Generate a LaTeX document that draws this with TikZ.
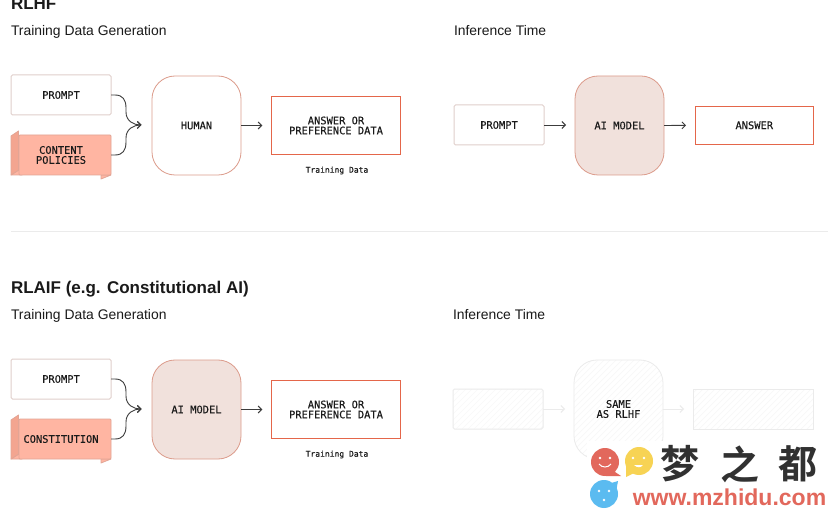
\documentclass[tikz,border=0pt]{standalone}
\usepackage{fontspec}
\setmainfont{Liberation Sans}
\newfontfamily\codefont{DejaVu Sans Mono}[FakeBold=0.2]
\newfontfamily\cjkfont{Noto Sans CJK SC}[BoldFont={* Bold}]
\usetikzlibrary{arrows.meta}
\definecolor{inkc}{HTML}{1A1A1A}
\definecolor{orangeline}{HTML}{E4664A}
\definecolor{softline}{HTML}{E0CFCB}
\definecolor{roundline}{HTML}{DC9C8C}
\definecolor{modelfill}{HTML}{F1E1DC}
\definecolor{ribbonfill}{HTML}{FFB5A2}
\definecolor{ribbonline}{HTML}{E2A595}
\definecolor{foldfill}{HTML}{F3A590}
\definecolor{ghostline}{HTML}{EBEBEB}
\definecolor{hatchc}{HTML}{F8F8F8}
\definecolor{wmred}{HTML}{E2685C}
\definecolor{wmyellow}{HTML}{F7D354}
\definecolor{wmblue}{HTML}{5BBBF0}
\tikzset{
  x=1pt,y=-1pt,
  every node/.style={inner sep=0pt,outer sep=0pt,text=inkc},
  code/.style={font=\codefont\fontsize{10.4}{10}\selectfont,align=center},
  softbox/.style={draw=softline,line width=1pt,rounded corners=1.5pt,fill=white,code,minimum height=40pt},
  sharpbox/.style={draw=orangeline,line width=0.8pt,fill=white,code},
  bigbox/.style={draw=roundline,line width=0.8pt,rounded corners=23pt,code,minimum width=89pt,minimum height=99pt},
  ribbontext/.style={code,text width=92pt},
  conn/.style={draw=inkc!85,line width=0.9pt,-{Straight Barb[length=3.5pt,width=7pt]}},
  gapconn/.style={conn,shorten >=9pt},
  ghostconn/.style={draw=ghostline,line width=0.9pt,shorten >=9pt,-{Straight Barb[length=3.5pt,width=7pt]}},
  ttl/.style={font=\bfseries\fontsize{17}{20}\selectfont,anchor=base west},
  sub/.style={font=\fontsize{13.9}{16}\selectfont,anchor=base west},
  tiny/.style={font=\codefont\fontsize{8}{8}\selectfont},
  hatched/.style={path picture={
    \foreach \k in {-130,-124,...,130}{
      \draw[hatchc,line width=0.7pt] ([xshift=\k pt]path picture bounding box.center)++(-110,110) -- ++(220,-220);}}},
}
\newcommand{\ribbon}[3]{%
  \fill[ribbonfill,draw=ribbonline,line width=0.8pt,line join=round] (101,#1+40) -- (111,#1+40) -- (101,#1+44) -- cycle;
  \fill[ribbonfill,draw=ribbonline,line width=0.8pt,line join=round] (11,#1+40) -- (19,#1+35) -- (22,#1+40) -- cycle;
  \fill[foldfill,draw=ribbonline,line width=0.8pt,line join=round] (11,#1+1) -- (18.5,#1-4) -- (18.5,#1+35) -- (11,#1+40) -- cycle;
  \node[draw=ribbonline,line width=0.8pt,fill=ribbonfill,rounded corners=1pt,minimum width=92pt,minimum height=40pt,anchor=north west] (#2) at (19,#1) {};
  \node[code] at (61,#1+20) {#3};
}
\begin{document}
\begin{tikzpicture}
\useasboundingbox (0,0) rectangle (828,513);
\clip (0,0) rectangle (828,513);
\fill[white] (0,0) rectangle (828,513);

% ---- RLHF
\node[ttl] (t1) at (11,10) {RLHF};
\node[sub] (s1) at (11,35.5) {Training Data Generation};
\node[sub] (s2) at (454,35.5) {Inference Time};

\node[softbox,minimum width=100pt] (p1) at (61,95) {PROMPT};
\ribbon{135}{c1}{CONTENT\\POLICIES}
\coordinate (m1) at (141.5,125);
\draw[conn] (p1.east) -- ++(4,0) .. controls +(8,0) and +(0,-8) .. (126,108) -- (126,112) .. controls +(0,9) and +(-8,0) .. (m1);
\draw[conn] (c1.east) -- ++(4,0) .. controls +(8,0) and +(0,8) .. (126,142) -- (126,138) .. controls +(0,-9) and +(-8,0) .. (m1);
\node[bigbox,fill=white] (h1) at (196.5,125.5) {HUMAN};
\node[sharpbox,minimum width=129.5pt,minimum height=58.5pt] (a1) at (336,125.5) {ANSWER OR\\PREFERENCE DATA};
\node[tiny] (d1) at (337,170.5) {Training Data};
\draw[gapconn] (h1.east) -- (a1.west);

\node[softbox,minimum width=90pt] (p2) at (499,125) {PROMPT};
\node[bigbox,fill=modelfill] (m2) at (619.5,125.5) {AI MODEL};
\node[sharpbox,minimum width=118.5pt,minimum height=38.5pt] (a2) at (754.3,125.3) {ANSWER};
\draw[gapconn] (p2.east) -- (p2.east -| m2.west);
\draw[gapconn] (m2.east) -- (a2.west);

% ---- separator
\coordinate (sa) at (11,231);
\coordinate (sb) at (828,231);
\draw[ghostline,line width=0.8pt] (sa) -- (sb);

% ---- RLAIF
\node[ttl] (t2) at (11,294) {RLAIF (e.g. Constitutional AI)};
\node[sub] (s3) at (11,319.5) {Training Data Generation};
\node[sub] (s4) at (453,319.5) {Inference Time};

\node[softbox,minimum width=100pt] (p3) at (61,379) {PROMPT};
\ribbon{419}{c2}{CONSTITUTION}
\coordinate (m3) at (141.5,409);
\draw[conn] (p3.east) -- ++(4,0) .. controls +(8,0) and +(0,-8) .. (126,392) -- (126,396) .. controls +(0,9) and +(-8,0) .. (m3);
\draw[conn] (c2.east) -- ++(4,0) .. controls +(8,0) and +(0,8) .. (126,426) -- (126,422) .. controls +(0,-9) and +(-8,0) .. (m3);
\node[bigbox,fill=modelfill] (h2) at (196.5,409.5) {AI MODEL};
\node[sharpbox,minimum width=129.5pt,minimum height=58.5pt] (a3) at (336,409.5) {ANSWER OR\\PREFERENCE DATA};
\node[tiny] (d2) at (337,454.5) {Training Data};
\draw[gapconn] (h2.east) -- (a3.west);

% ghosted inference
\path[draw=ghostline,line width=1pt,rounded corners=1.5pt,fill=white,hatched] (453,389) rectangle (543,429);
\node[minimum width=90pt,minimum height=40pt] (g1) at (498,409) {};
\path[draw=ghostline,line width=0.8pt,rounded corners=23pt,fill=white,hatched] (574,360) rectangle (663,459);
\node[code,minimum width=89pt,minimum height=99pt] (g2) at (618.5,409) {SAME\\AS RLHF};
\path[draw=ghostline,line width=0.8pt,fill=white,hatched] (693,389) rectangle (813,429);
\node[minimum width=120pt,minimum height=40pt] (g3) at (753,409) {};
\draw[ghostconn] (g1.east) -- (g2.west);
\draw[ghostconn] (g2.east) -- (g3.west);

% ---- watermark
\fill[white] (587,441) rectangle (828,513);
\fill[wmred] (605,462) circle (14);
\fill[wmred] (612,470) -- (621,476) -- (606,476) -- cycle;
\fill[white] (600,458) circle (1.4) (610,458) circle (1.4);
\draw[white,line width=1pt] (599,464) .. controls (602,468) and (608,468) .. (611,464);
\fill[wmyellow] (639,461) circle (14);
\fill[wmyellow] (626,477) -- (626,462) -- (636,472) -- cycle;
\fill[white] (633,458) circle (1.4) (644,458) circle (1.4);
\fill[white] (634,465) .. controls (637,468) and (641,468) .. (643,465) -- cycle;
\fill[wmblue] (604,494) circle (14);
\fill[wmblue] (618,481) -- (616,492) -- (608,484) -- cycle;
\fill[white] (599,491) circle (1.4) (609,491) circle (1.4) (604,500) circle (1.4);
\node[font=\cjkfont\bfseries\fontsize{39}{40}\selectfont,text=inkc!90] (w1) at (680,464) {梦};
\node[font=\cjkfont\bfseries\fontsize{39}{40}\selectfont,text=inkc!90] (w2) at (740,464) {之};
\node[font=\cjkfont\bfseries\fontsize{39}{40}\selectfont,text=inkc!90] (w3) at (798,464) {都};
\node[font=\bfseries\fontsize{23}{24}\selectfont,text=wmred] (w4) at (729.5,497) {www.mzhidu.com};
\end{tikzpicture}
\end{document}
